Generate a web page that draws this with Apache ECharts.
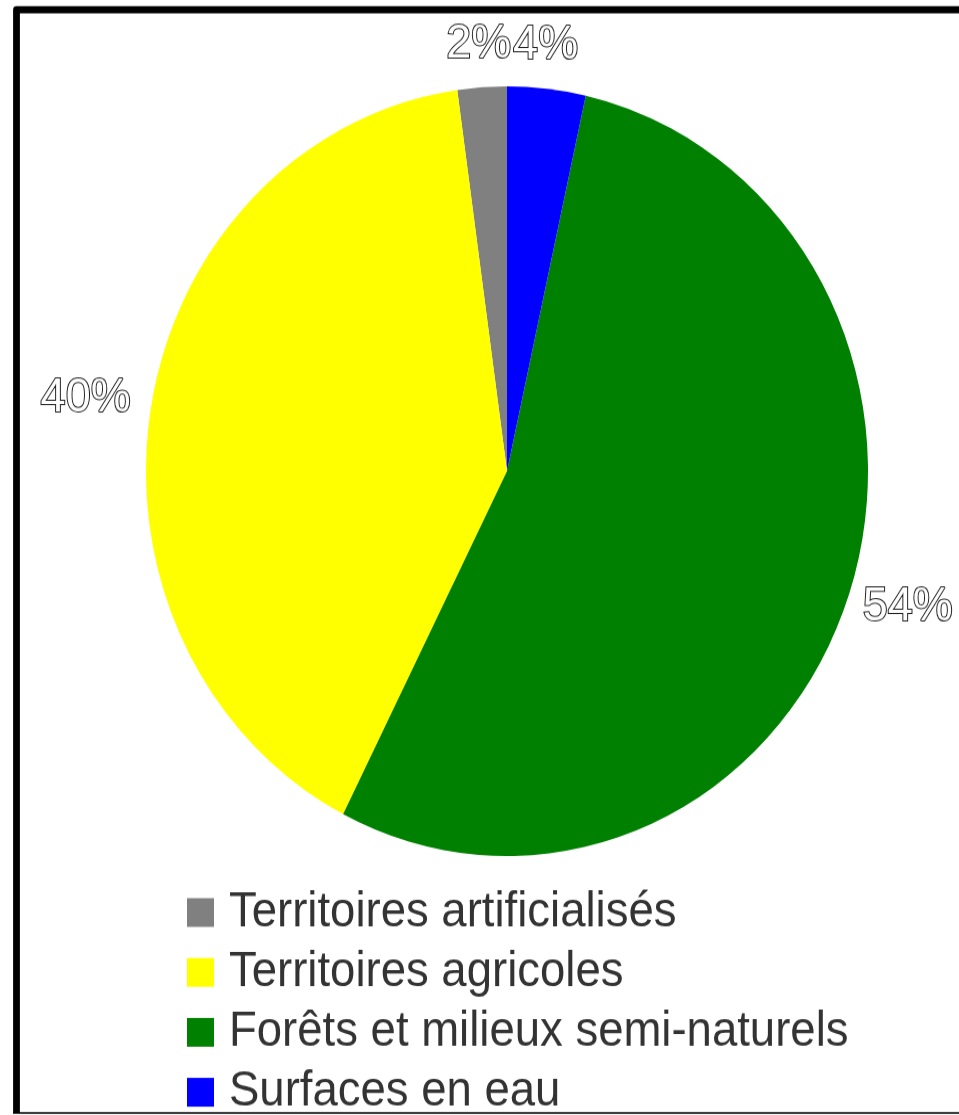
<!DOCTYPE html>
<html>
<head>
<meta charset="utf-8">
<script src="https://cdn.jsdelivr.net/npm/echarts@6/dist/echarts.min.js"></script>
<style>
  html, body { margin: 0; padding: 0; background: #fff; overflow: hidden; }
  #wrap { width: 959px; height: 1115px; overflow: hidden; position: relative; }
  #chart { width: 959px; height: 1046px; transform: scaleY(1.066); transform-origin: 0 0; }
</style>
</head>
<body>
<div id="wrap"><div id="chart"></div></div>
<script>
// ---- data ----
const categories = [
  'Territoires artificialisés',
  'Territoires agricoles',
  'Forêts et milieux semi-naturels',
  'Surfaces en eau'
];
const shares = [2.2, 40.3, 54.0, 3.5];
const colors = ['#808080', '#ffff00', '#008000', '#0000ff'];

// label-line geometry per slice (radial length, horizontal length)
const labelLines = [[40, -37], [49, -33], [15, -3], [41, -43]];

const chart = echarts.init(document.getElementById('chart'), null, { renderer: 'canvas' });

const H = 1046;
const option = {
  animation: false,
  backgroundColor: '#ffffff',
  graphic: [
    {
      type: 'polyline',
      shape: { points: [[16.5, H - 2], [16.5, 9.2], [1000, 9.2]] },
      style: { stroke: '#000', lineWidth: 6.8, fill: null, lineJoin: 'round', lineCap: 'butt' },
      silent: true
    },
    {
      type: 'line',
      shape: { x1: 13, y1: 1043.9, x2: 1000, y2: 1043.9 },
      style: { stroke: '#000', lineWidth: 1.5 },
      silent: true
    }
  ],
  legend: {
    orient: 'vertical',
    left: 187,
    top: 833,
    height: 400,
    padding: 0,
    itemWidth: 27,
    itemHeight: 27,
    itemGap: 10.2,
    icon: 'rect',
    selectedMode: false,
    data: categories,
    textStyle: {
      fontFamily: 'Liberation Sans',
      fontSize: 45.5,
      color: '#333333',
      padding: [0, 0, 0, 10]
    }
  },
  series: [{
    type: 'pie',
    center: [507, 442],
    radius: 361,
    startAngle: 90,
    clockwise: false,
    avoidLabelOverlap: false,
    silent: true,
    itemStyle: { borderWidth: 0 },
    label: {
      show: true,
      position: 'outside',
      formatter: '{d}%',
      fontFamily: 'Liberation Sans',
      fontSize: 45,
      color: '#ffffff',
      textBorderColor: '#222222',
      textBorderWidth: 2,
      distanceToLabelLine: 5
    },
    labelLine: { show: false },
    labelLayout: { hideOverlap: false },
    percentPrecision: 0,
    data: categories.map((name, i) => ({
      name: name,
      value: shares[i],
      itemStyle: { color: colors[i] },
      labelLine: { show: false, length: labelLines[i][0], length2: labelLines[i][1] }
    }))
  }]
};
chart.setOption(option);
</script>
</body>
</html>
